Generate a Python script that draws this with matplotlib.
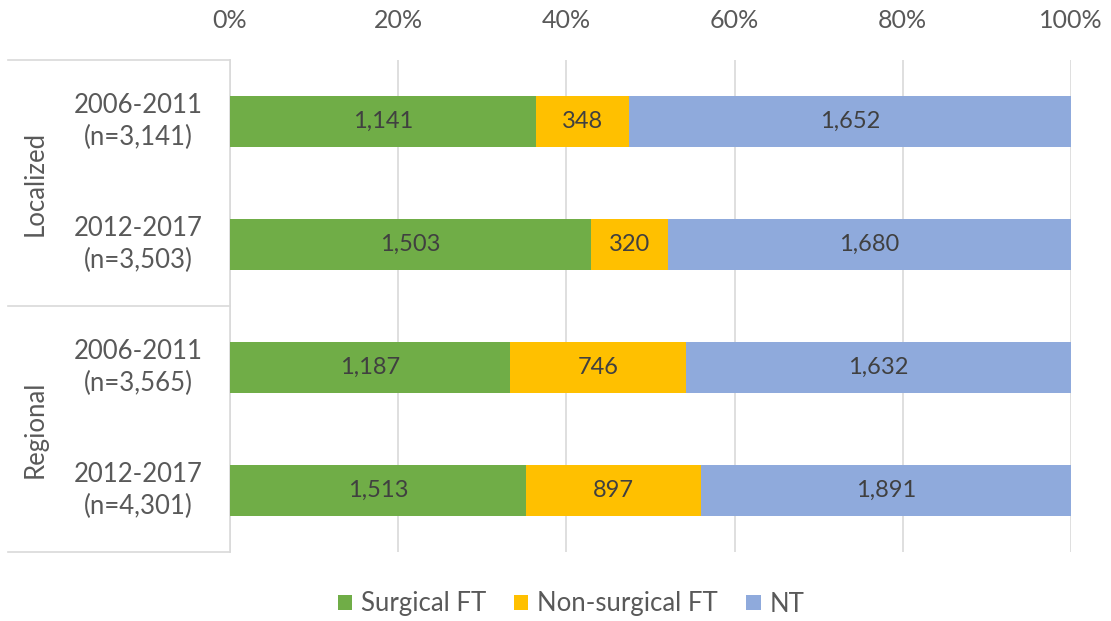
import matplotlib
matplotlib.use("Agg")
import matplotlib.pyplot as plt
import matplotlib.transforms as mtransforms
from matplotlib.patches import Patch

plt.rcParams['font.family'] = ['Lato', 'DejaVu Sans']

groups = ["Localized", "Regional"]
periods = ["2006-2011", "2012-2017", "2006-2011", "2012-2017"]
totals = ["3,141", "3,503", "3,565", "4,301"]
series_names = ["Surgical FT", "Non-surgical FT", "NT"]
surgical = [1141, 1503, 1187, 1513]
nonsurgical = [348, 320, 746, 897]
nt = [1652, 1680, 1632, 1891]
xticks = [0, 20, 40, 60, 80, 100]

colors = ["#70AD47", "#FFC000", "#8FAADC"]
text_col = "#595959"
grid_col = "#D9D9D9"

fig = plt.figure(figsize=(11.11, 6.21), dpi=100)
ax = fig.add_axes([230/1111, 1-552/621, (1071-230)/1111, (552-60)/621])

series = [surgical, nonsurgical, nt]
n = len(periods)
ypos = list(range(n))
left = [0.0]*n
tot = [s + m + t for s, m, t in zip(surgical, nonsurgical, nt)]
for vals, col in zip(series, colors):
    pct = [v / T * 100 for v, T in zip(vals, tot)]
    bars = ax.barh(ypos, pct, left=left, color=col, height=0.41, zorder=3)
    for b, v in zip(bars, vals):
        ax.text(b.get_x() + b.get_width()/2, b.get_y() + b.get_height()/2,
                f"{v:,}", ha="center", va="center", fontsize=17, color="#404040", zorder=4)
    left = [l + p for l, p in zip(left, pct)]

ax.set_xlim(0, 100)
ax.set_ylim(n - 0.5, -0.5)
ax.set_xticks(xticks)
ax.set_xticklabels([f"{x}%" for x in xticks])
ax.xaxis.tick_top()
ax.tick_params(axis="x", length=0, pad=20, labelsize=18, labelcolor=text_col)
ax.set_yticks([])
for s in ["top", "right", "bottom"]:
    ax.spines[s].set_visible(False)
ax.spines["left"].set_color(grid_col)
ax.spines["left"].set_linewidth(1.2)
ax.grid(axis="x", color=grid_col, linewidth=1.2, zorder=0)

trans = mtransforms.blended_transform_factory(ax.transAxes, ax.transData)
x_left = (8 - 230) / (1071 - 230)
for yb in [-0.5, 1.5, 3.5]:
    ax.plot([x_left, 0], [yb, yb], transform=trans, color=grid_col, lw=1.2, clip_on=False)

x_cat = (138 - 230) / (1071 - 230)
for i, (p, t) in enumerate(zip(periods, totals)):
    ax.text(x_cat, i, f"{p}\n(n={t})", transform=trans, ha="center", va="center",
            fontsize=18.5, color=text_col, linespacing=1.35)

x_grp = (35 - 230) / (1071 - 230)
for g, yc in zip(groups, [0.5, 2.5]):
    ax.text(x_grp, yc, g, transform=trans, ha="center", va="center", rotation=90,
            fontsize=18.5, color=text_col)

handles = [Patch(facecolor=c, edgecolor="none") for c in colors]
fig.legend(handles, series_names, loc="center", bbox_to_anchor=(0.514, 1-604/621), ncol=3,
           frameon=False, fontsize=18.5, labelcolor=text_col, handlelength=0.55, handleheight=0.55,
           handletextpad=0.35, columnspacing=1.1)

fig.savefig("out.png", dpi=100)
